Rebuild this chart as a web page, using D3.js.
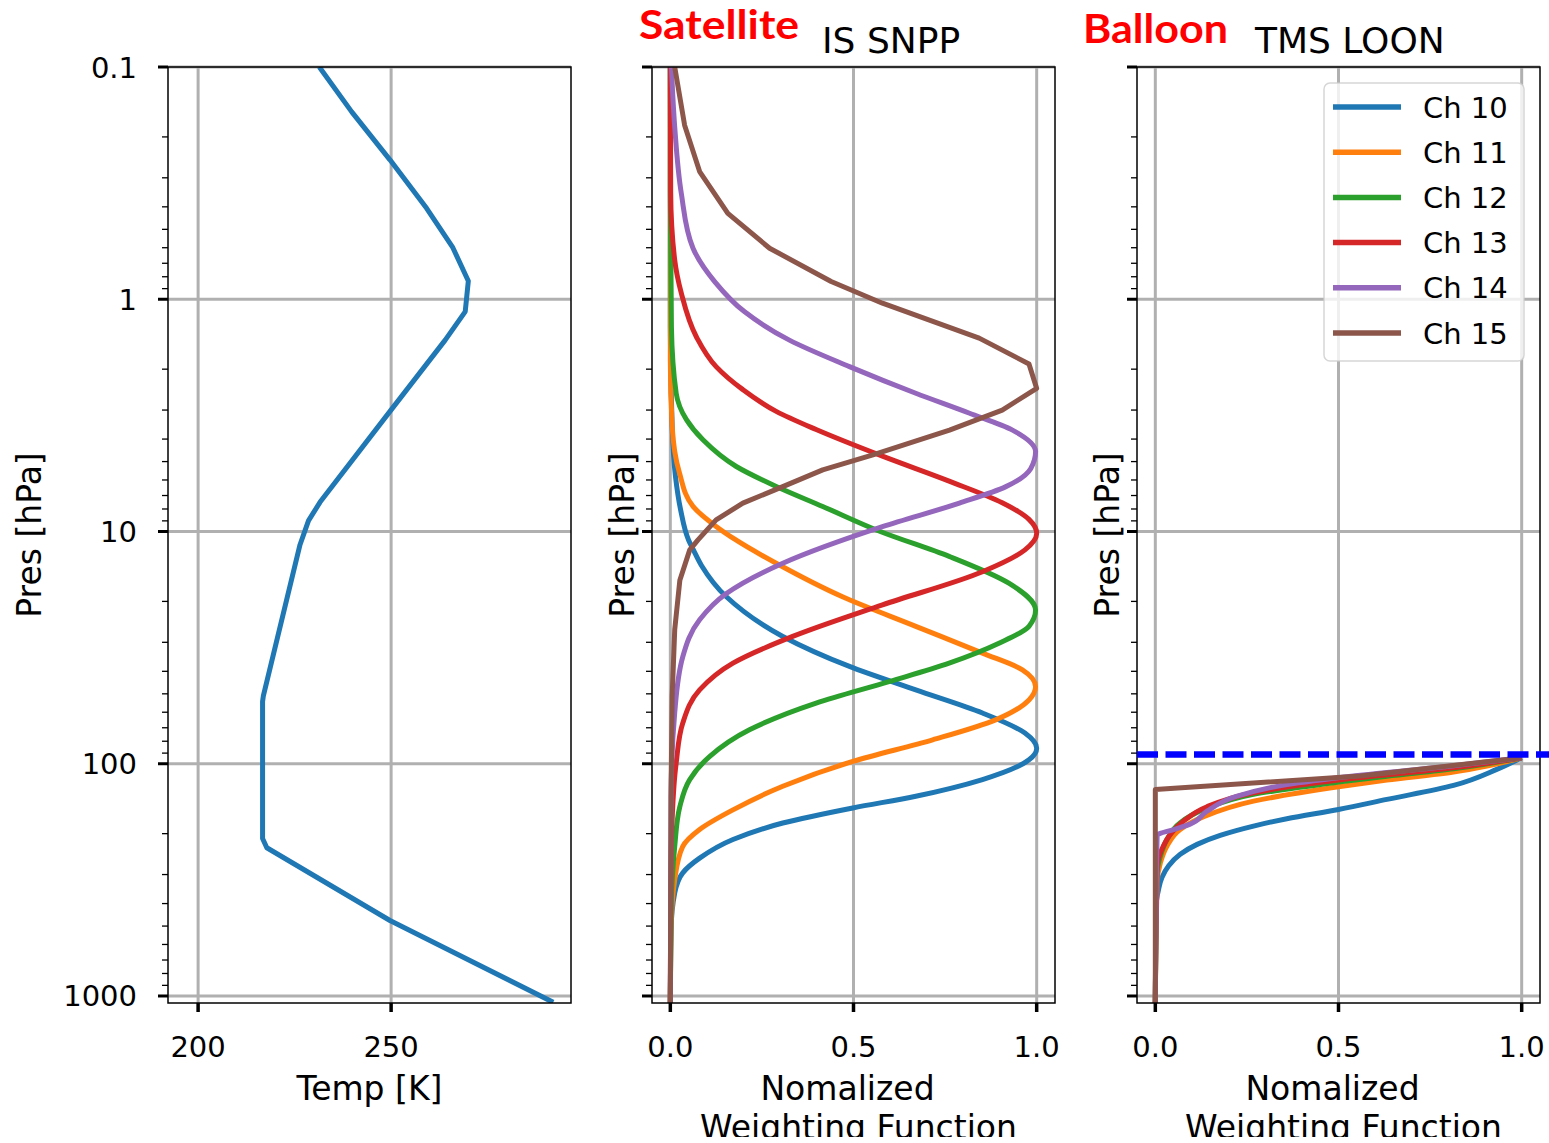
<!DOCTYPE html>
<html>
<head>
<meta charset="utf-8">
<script src="https://cdn.jsdelivr.net/npm/d3@7"></script>
<style>
  html, body { margin: 0; padding: 0; background: #fff; }
  svg { display: block; }
  text { font-family: "DejaVu Sans", sans-serif; fill: #000; }
</style>
</head>
<body>
<svg id="chart" width="1549" height="1137"></svg>
<script>
// ---------- axis ticks and labels ----------
const pressureMajor = [0.1, 1, 10, 100, 1000];
const pressureLabels = ["0.1", "1", "10", "100", "1000"];
const tempTicks = [200, 250];
const tempTickLabels = ["200", "250"];
const wfTicks = [0.0, 0.5, 1.0];
const wfTickLabels = ["0.0", "0.5", "1.0"];

const channelNames = ["Ch 10", "Ch 11", "Ch 12", "Ch 13", "Ch 14", "Ch 15"];
const channelColors = ["#1f77b4", "#ff7f0e", "#2ca02c", "#d62728", "#9467bd", "#8c564b"];

// ---------- temperature profile ----------
const tempPres = [0.1, 0.156, 0.251, 0.406, 0.60, 0.834, 1.13, 1.5, 3.04, 7.47, 8.98, 11.4, 51, 54, 210, 230, 473, 1065];
const tempK    = [231.4, 239.8, 249.7, 259.2, 266.0, 270.0, 269.2, 264.0, 249.7, 231.6, 228.6, 226.4, 216.9, 216.7, 216.7, 217.8, 249.7, 292.0];

// ---------- ATMS SNPP normalized weighting functions ----------
const satCh10Pres = [0.1, 1.31, 3.52, 5.78, 8.05, 10.9, 12.0, 14.0, 19.1, 28.3, 38.1, 48.1, 60.5, 73.8, 85.7, 96.2, 117, 138, 155, 180, 212, 255, 295, 360, 518, 1072];
const satCh10Wf   = [0, 0, 0.005, 0.014, 0.028, 0.050, 0.063, 0.085, 0.153, 0.307, 0.489, 0.670, 0.852, 0.968, 1.0, 0.979, 0.852, 0.670, 0.498, 0.307, 0.171, 0.080, 0.034, 0.012, 0.002, 0];

const satCh11Pres = [0.1, 1.82, 3.52, 5.60, 7.80, 9.51, 10.9, 13.7, 19.1, 25.6, 33.4, 39.4, 46.6, 53.1, 64.7, 78.9, 97.7, 125, 158, 192, 227, 316, 518, 1072];
const satCh11Wf   = [0, 0, 0.005, 0.025, 0.062, 0.125, 0.180, 0.289, 0.470, 0.670, 0.852, 0.961, 0.997, 0.979, 0.888, 0.716, 0.498, 0.307, 0.171, 0.080, 0.034, 0.012, 0.002, 0];

const satCh12Pres = [0.1, 0.347, 1.31, 2.54, 3.30, 4.03, 5.25, 6.40, 7.80, 10.0, 12.8, 16.7, 21.8, 25.6, 30.3, 36.9, 44.3, 54.8, 71.4, 93.1, 117, 153, 227, 440, 1072];
const satCh12Wf   = [0, 0, 0.003, 0.016, 0.044, 0.089, 0.180, 0.289, 0.416, 0.573, 0.761, 0.924, 0.997, 0.979, 0.897, 0.761, 0.597, 0.398, 0.216, 0.107, 0.053, 0.026, 0.012, 0.002, 0];

const satCh13Pres = [0.1, 0.347, 0.678, 0.942, 1.45, 1.95, 2.45, 3.04, 3.64, 4.74, 6.07, 7.52, 8.87, 10.2, 12.0, 14.9, 20.7, 28.3, 36.9, 48.1, 66.8, 99.3, 192, 372, 1072];
const satCh13Wf   = [0, 0.001, 0.012, 0.030, 0.071, 0.125, 0.198, 0.289, 0.398, 0.579, 0.761, 0.906, 0.979, 1.0, 0.968, 0.852, 0.579, 0.334, 0.171, 0.080, 0.034, 0.016, 0.004, 0.001, 0];

const satCh14Pres = [0.1, 0.181, 0.350, 0.603, 0.839, 1.13, 1.50, 1.95, 2.54, 3.09, 3.66, 4.53, 5.35, 6.41, 7.55, 9.53, 13.7, 18.5, 24.0, 34.6, 60.4, 138, 1072];
const satCh14Wf   = [0.003, 0.012, 0.030, 0.062, 0.121, 0.202, 0.325, 0.489, 0.670, 0.815, 0.934, 0.997, 0.984, 0.916, 0.789, 0.579, 0.307, 0.153, 0.080, 0.034, 0.012, 0.002, 0];

const satCh15Pres = [0.1, 0.178, 0.282, 0.427, 0.603, 0.839, 1.04, 1.47, 1.90, 2.42, 3.00, 3.66, 4.68, 5.43, 6.41, 7.55, 8.91, 10.9, 12.0, 16.2, 26.5, 51.4, 138, 1072];
const satCh15Wf   = [0.012, 0.039, 0.080, 0.157, 0.271, 0.439, 0.579, 0.843, 0.979, 1.0, 0.906, 0.762, 0.553, 0.416, 0.307, 0.198, 0.125, 0.075, 0.053, 0.026, 0.012, 0.005, 0.002, 0];

// ---------- ATMS LOON (balloon) normalized weighting functions ----------
const balCh10Pres = [94.2, 105.8, 124, 142.4, 157.3, 172.4, 185.5, 203.4, 222.4, 245.5, 275.7, 309.3, 347.2, 396, 1072];
const balCh10Wf   = [1.0, 0.932, 0.814, 0.632, 0.500, 0.359, 0.268, 0.177, 0.114, 0.068, 0.036, 0.018, 0.009, 0.003, 0];

const balCh11Pres = [94.2, 102.4, 108.6, 117.6, 125.6, 144.9, 169, 191.7, 225.9, 266.6, 325, 1072];
const balCh11Wf   = [1.0, 0.905, 0.814, 0.632, 0.500, 0.268, 0.132, 0.068, 0.032, 0.014, 0.005, 0];

const balCh12Pres = [94.2, 105.1, 113.1, 120, 135.5, 157.3, 179.4, 211.7, 249.6, 294.3, 1072];
const balCh12Wf   = [1.0, 0.814, 0.632, 0.500, 0.268, 0.132, 0.068, 0.032, 0.014, 0.005, 0];

const balCh13Pres = [94.2, 104.2, 117.6, 133.3, 153.1, 176.6, 201.4, 233.7, 275.7, 1072];
const balCh13Wf   = [1.0, 0.814, 0.500, 0.268, 0.141, 0.077, 0.041, 0.018, 0.005, 0];

const balCh14Pres = [94.2, 102, 113, 123, 138, 160, 182, 192, 203, 1072];
const balCh14Wf   = [1.0, 0.814, 0.541, 0.359, 0.223, 0.141, 0.095, 0.050, 0.005, 0];

const balCh15Pres = [94.2, 113, 129, 1072];
const balCh15Wf   = [1.0, 0.559, 0.0, 0];

// balloon flight level
const balloonLevel = 91.2;

// ---------- layout ----------
const svg = d3.select("#chart");
const plotTop = 67, plotBottom = 1003;
const y = d3.scaleLog().domain([0.1, 1072]).range([plotTop, plotBottom]);

const panels = [
  { id: "temp", x: d3.scaleLinear().domain([192.2, 296.6]).range([168, 571]),
    ticks: tempTicks, tickLabels: tempTickLabels, yLabels: true,
    yLabelX: 41, xLabel: ["Temp [K]"], xLabelDx: [0] },
  { id: "sat", x: d3.scaleLinear().domain([-0.05, 1.05]).range([652, 1055]),
    ticks: wfTicks, tickLabels: wfTickLabels, yLabels: false,
    yLabelX: 634, xLabel: ["Nomalized", "Weighting Function"], xLabelDx: [-6, 5] },
  { id: "bal", x: d3.scaleLinear().domain([-0.05, 1.05]).range([1137, 1540]),
    ticks: wfTicks, tickLabels: wfTickLabels, yLabels: false,
    yLabelX: 1119, xLabel: ["Nomalized", "Weighting Function"], xLabelDx: [-6, 5] }
];

const minorTicks = [];
pressureMajor.slice(0, -1).forEach(d => { for (let k = 2; k <= 9; k++) minorTicks.push(d * k); });

const gridColor = "#b0b0b0";

panels.forEach(p => {
  const [x0, x1] = p.x.range();
  const g = svg.append("g").attr("id", "panel-" + p.id);

  // clip region for the plotted curves
  svg.append("clipPath").attr("id", "clip-" + p.id)
    .append("rect").attr("x", x0).attr("y", plotTop).attr("width", x1 - x0).attr("height", plotBottom - plotTop);

  // grid
  const grid = g.append("g").attr("class", "grid");
  grid.selectAll("line.gx").data(p.ticks).join("line")
    .attr("x1", d => p.x(d)).attr("x2", d => p.x(d))
    .attr("y1", plotTop).attr("y2", plotBottom)
    .attr("stroke", gridColor).attr("stroke-width", 3);
  grid.selectAll("line.gy").data(pressureMajor).join("line")
    .attr("x1", x0).attr("x2", x1)
    .attr("y1", d => y(d)).attr("y2", d => y(d))
    .attr("stroke", gridColor).attr("stroke-width", 3);

  p.plot = g.append("g").attr("clip-path", `url(#clip-${p.id})`);

  // spines, ticks and labels, drawn on top of the curves
  p.frame = () => {
    const f = g.append("g").attr("class", "frame");
    f.append("rect").attr("x", x0).attr("y", plotTop).attr("width", x1 - x0).attr("height", plotBottom - plotTop)
      .attr("fill", "none").attr("stroke", "#000").attr("stroke-width", 1.5);
    f.selectAll("line.ymaj").data(pressureMajor).join("line")
      .attr("x1", x0 - 10).attr("x2", x0)
      .attr("y1", d => y(d)).attr("y2", d => y(d))
      .attr("stroke", "#000").attr("stroke-width", 3);
    f.selectAll("line.ymin").data(minorTicks).join("line")
      .attr("x1", x0 - 6).attr("x2", x0)
      .attr("y1", d => y(d)).attr("y2", d => y(d))
      .attr("stroke", "#000").attr("stroke-width", 1.3);
    f.selectAll("line.xt").data(p.ticks).join("line")
      .attr("x1", d => p.x(d)).attr("x2", d => p.x(d))
      .attr("y1", plotBottom).attr("y2", plotBottom + 9)
      .attr("stroke", "#000").attr("stroke-width", 3.5);
    f.selectAll("text.xl").data(p.ticks).join("text")
      .attr("x", d => p.x(d)).attr("y", 1057)
      .attr("text-anchor", "middle").attr("font-size", 29)
      .text((d, i) => p.tickLabels[i]);
    if (p.yLabels) {
      f.selectAll("text.yl").data(pressureMajor).join("text")
        .attr("x", x0 - 31).attr("y", d => y(d) + 10.5)
        .attr("text-anchor", "end").attr("font-size", 29)
        .text((d, i) => pressureLabels[i]);
    }
    p.xLabel.forEach((t, i) => {
      f.append("text")
        .attr("x", (x0 + x1) / 2 + p.xLabelDx[i]).attr("y", 1100 + i * 39)
        .attr("text-anchor", "middle").attr("font-size", 33).text(t);
    });
    f.append("text")
      .attr("transform", `translate(${p.yLabelX},${(plotTop + plotBottom) / 2}) rotate(-90)`)
      .attr("text-anchor", "middle").attr("font-size", 33).text("Pres [hPa]");
  };
});

// ---------- curves ----------
const toPoints = (pres, vals) => pres.map((pr, i) => ({ p: pr, v: vals[i] }));

const tempPanel = panels[0], satPanel = panels[1], balPanel = panels[2];

tempPanel.plot.append("path")
  .datum(toPoints(tempPres, tempK))
  .attr("fill", "none").attr("stroke", "#1f77b4").attr("stroke-width", 5)
  .attr("stroke-linejoin", "round")
  .attr("d", d3.line().x(d => tempPanel.x(d.v)).y(d => y(d.p)));

const satSeries = [
  [satCh10Pres, satCh10Wf], [satCh11Pres, satCh11Wf], [satCh12Pres, satCh12Wf],
  [satCh13Pres, satCh13Wf], [satCh14Pres, satCh14Wf], [satCh15Pres, satCh15Wf]
];
const balSeries = [
  [balCh10Pres, balCh10Wf], [balCh11Pres, balCh11Wf], [balCh12Pres, balCh12Wf],
  [balCh13Pres, balCh13Wf], [balCh14Pres, balCh14Wf], [balCh15Pres, balCh15Wf]
];

function drawSeries(panel, series) {
  series.forEach(([pres, wf], i) => {
    const curve = i < 5 ? d3.curveMonotoneY : d3.curveLinear;
    panel.plot.append("path")
      .datum(toPoints(pres, wf))
      .attr("fill", "none").attr("stroke", channelColors[i]).attr("stroke-width", 5)
      .attr("stroke-linejoin", "round")
      .attr("d", d3.line().x(d => panel.x(d.v)).y(d => y(d.p)).curve(curve));
  });
}
drawSeries(satPanel, satSeries);
drawSeries(balPanel, balSeries);

panels.forEach(p => p.frame());

// balloon flight level
svg.append("line")
  .attr("x1", balPanel.x.range()[0]).attr("x2", 1549)
  .attr("y1", y(balloonLevel)).attr("y2", y(balloonLevel))
  .attr("stroke", "#0000ff").attr("stroke-width", 6.5)
  .attr("stroke-dasharray", "21,7.5");

// ---------- legend ----------
const legend = svg.append("g").attr("class", "legend");
legend.append("rect")
  .attr("x", 1324).attr("y", 83).attr("width", 200).attr("height", 278)
  .attr("rx", 6).attr("fill", "#fff").attr("fill-opacity", 0.8)
  .attr("stroke", "#cccccc").attr("stroke-opacity", 0.8).attr("stroke-width", 1.5);
const rowY = d3.scaleLinear().domain([0, 5]).range([107, 333]);
const items = legend.selectAll("g.item").data(channelNames).join("g")
  .attr("transform", (d, i) => `translate(0,${rowY(i)})`);
items.append("line").attr("x1", 1333).attr("x2", 1401)
  .attr("stroke", (d, i) => channelColors[i]).attr("stroke-width", 5.5);
items.append("text").attr("x", 1423).attr("y", 10.5)
  .attr("font-size", 29).text(d => d);

// ---------- titles ----------
svg.append("text").attr("x", 822).attr("y", 53).attr("font-size", 36).text("IS SNPP");
svg.append("text").attr("x", 1255).attr("y", 53).attr("font-size", 36).text("TMS LOON");

svg.append("text").attr("x", 639).attr("y", 39)
  .style("font-family", "Lato, 'Open Sans', sans-serif").style("font-weight", 700)
  .style("fill", "#ff0000").attr("font-size", 41)
  .attr("textLength", 160).attr("lengthAdjust", "spacingAndGlyphs").text("Satellite");
svg.append("text").attr("x", 1083).attr("y", 43)
  .style("font-family", "Lato, 'Open Sans', sans-serif").style("font-weight", 700)
  .style("fill", "#ff0000").attr("font-size", 41)
  .attr("textLength", 145).attr("lengthAdjust", "spacingAndGlyphs").text("Balloon");
</script>
</body>
</html>
